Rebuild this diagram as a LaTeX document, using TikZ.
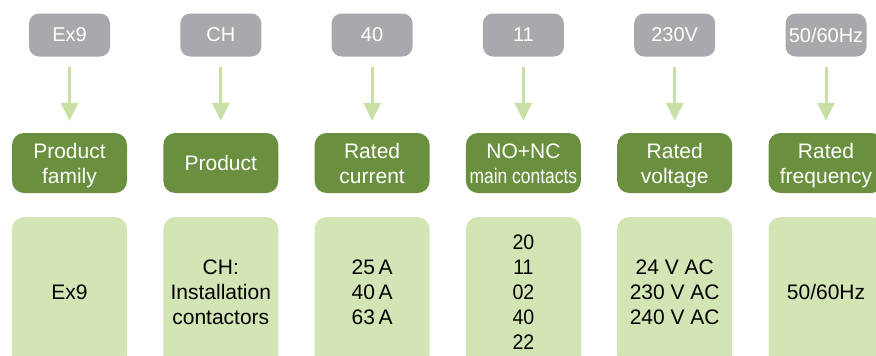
\documentclass[tikz,border=0pt]{standalone}
\usepackage{fontspec}
\setmainfont{Liberation Sans}
\newfontfamily\condfont[FakeStretch=0.83]{Liberation Sans}
\newfontfamily\numfont[FakeStretch=0.93]{Liberation Sans}
\usetikzlibrary{arrows.meta}
\definecolor{codegray}{HTML}{A7A9AC}
\definecolor{darkgreen}{HTML}{6A8F3E}
\definecolor{lightgreen}{HTML}{D3E5B5}
\definecolor{arrowgreen}{HTML}{C8DFA6}
\newcommand{\topstrut}{\rule{0pt}{20pt}}
\newcommand{\botstrut}{\rule[-5pt]{0pt}{5pt}}
\tikzset{
  codebox/.style={fill=codegray, rounded corners=10pt, minimum width=81pt, minimum height=43pt,
    text=white, font=\fontsize{20}{24}\selectfont, inner sep=0pt},
  headbox/.style={fill=darkgreen, rounded corners=12pt, minimum width=115pt, minimum height=60pt,
    text=white, font=\fontsize{21}{25}\selectfont, align=center, inner sep=0pt},
  valbox/.style={fill=lightgreen, rounded corners=12pt, minimum width=115pt, minimum height=150pt,
    text=black, font=\fontsize{21}{25}\selectfont, align=center, inner sep=0pt},
  arr/.style={draw=arrowgreen, line width=3pt, shorten <=10pt, shorten >=12pt,
    -{Triangle[width=17pt,length=18pt]}}
}
\begin{document}
\begin{tikzpicture}[x=1pt,y=-1pt]
\useasboundingbox (0,0) rectangle (876,356);
\clip (0,0) rectangle (876,356);
\foreach \i/\cx/\code in {1/69.5/Ex9, 2/220.8/CH, 3/372.1/40, 4/523.4/11, 5/674.7/230V, 6/826/50\slash 60Hz}{
  \node[codebox] (g\i) at (\cx,35) {\code};
}
\node[headbox] (h1) at (69.5,163) {\topstrut Product\\family\botstrut};
\node[headbox] (h2) at (220.8,163) {Product};
\node[headbox] (h3) at (372.1,163) {\topstrut Rated\\current\botstrut};
\node[headbox] (h4) at (523.4,163) {\topstrut NO+NC\\{\condfont main contacts}\botstrut};
\node[headbox] (h5) at (674.7,163) {\topstrut Rated\\voltage\botstrut};
\node[headbox] (h6) at (826,163) {\topstrut Rated\\frequency\botstrut};
\foreach \i in {1,...,6}{
  \draw[arr] (g\i) -- (h\i);
}
\node[valbox] (v1) at (69.5,292) {Ex9};
\node[valbox] (v2) at (220.8,292) {CH:\\Installation\\contactors};
\node[valbox] (v3) at (372.1,292) {25\,A\\40\,A\\63\,A};
\node[valbox] (v4) at (523.4,292) {\numfont 20\\\numfont 11\\\numfont 02\\\numfont 40\\\numfont 22};
\node[valbox] (v5) at (674.7,292) {24 V AC\\230 V AC\\240 V AC};
\node[valbox] (v6) at (826,292) {50/60Hz};
\end{tikzpicture}
\end{document}
